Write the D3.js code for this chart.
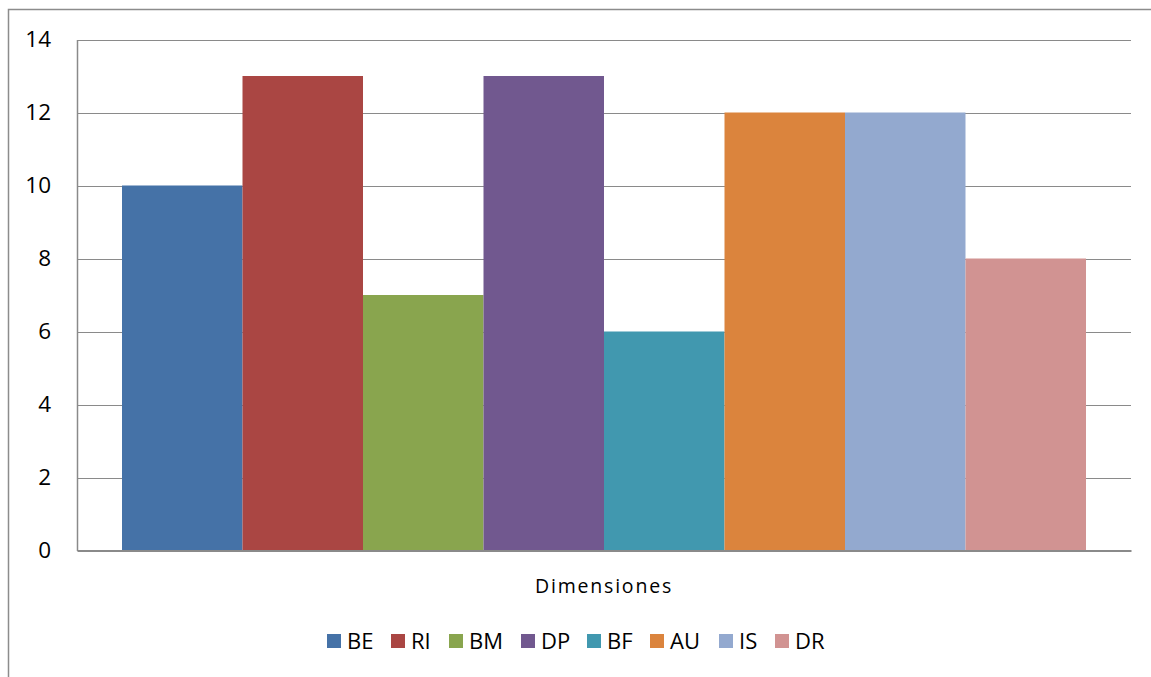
<!DOCTYPE html>
<html>
<head>
<meta charset="utf-8">
<script src="https://cdn.jsdelivr.net/npm/d3@7"></script>
<style>
  html, body { margin: 0; padding: 0; background: #fff; }
  svg { display: block; font-family: "Open Sans", Lato, sans-serif; }
</style>
</head>
<body>
<svg id="chart" width="1151" height="677"></svg>
<script>
// Dimension scores
const categories = ["BE", "RI", "BM", "DP", "BF", "AU", "IS", "DR"];
const values = [10, 13, 7, 13, 6, 12, 12, 8];
const colors = ["#4572A7", "#AA4643", "#89A54E", "#71588F", "#4198AF", "#DB843D", "#93A9CF", "#D19392"];
const yTicks = [0, 2, 4, 6, 8, 10, 12, 14];
const groupLabel = "Dimensiones";

const FONT = "'Open Sans', Lato, sans-serif";

const svg = d3.select("#chart");
const plot = { left: 77, right: 1131, top: 39.5, bottom: 550.5 };

// Outer frame
svg.append("rect")
  .attr("x", 8.5).attr("y", 9.5)
  .attr("width", 1160).attr("height", 700)
  .attr("fill", "none").attr("stroke", "#8c8c8c").attr("stroke-width", 1.5);

const y = d3.scaleLinear().domain([0, 14]).range([plot.bottom, plot.top]);

// One category group containing all series side by side
const x0 = d3.scaleBand().domain([groupLabel]).range([plot.left, plot.right]).paddingInner(0).paddingOuter(0);
const x1 = d3.scaleBand().domain(categories)
  .range([x0(groupLabel) + 45, x0(groupLabel) + x0.bandwidth() - 45])
  .padding(0);

// Gridlines
svg.append("g")
  .selectAll("line")
  .data(yTicks.filter(d => d > 0))
  .join("line")
  .attr("x1", plot.left).attr("x2", plot.right)
  .attr("y1", d => Math.round(y(d)) + 0.5).attr("y2", d => Math.round(y(d)) + 0.5)
  .attr("stroke", "#8a8a8a").attr("stroke-width", 1.2);

// Bars
svg.append("g")
  .selectAll("rect")
  .data(categories)
  .join("rect")
  .attr("x", d => x1(d))
  .attr("width", x1.bandwidth())
  .attr("y", (d, i) => y(values[i]))
  .attr("height", (d, i) => y(0) - y(values[i]))
  .attr("fill", (d, i) => colors[i]);

// Y axis
const yAxis = svg.append("g")
  .attr("transform", `translate(${plot.left},0)`)
  .call(d3.axisLeft(y).tickValues(yTicks).tickSize(0).tickPadding(26).tickFormat(d3.format("d")));
yAxis.select(".domain").attr("stroke", "#8a8a8a").attr("stroke-width", 1.5);
yAxis.selectAll("text")
  .attr("font-size", 22.5).attr("fill", "#000")
  .attr("font-family", FONT);

// X axis
const xAxis = svg.append("g")
  .attr("transform", `translate(0,${plot.bottom})`)
  .call(d3.axisBottom(x0).tickSize(0).tickPadding(28.5));
xAxis.select(".domain").attr("stroke", "#8a8a8a").attr("stroke-width", 2);
xAxis.selectAll("text")
  .attr("font-size", 19.5).attr("fill", "#000")
  .attr("letter-spacing", 1.8)
  .attr("font-family", FONT);

// Legend
const legendX = [327, 391, 449, 521, 587, 650, 719, 775];
const legend = svg.append("g").selectAll("g")
  .data(categories)
  .join("g")
  .attr("transform", (d, i) => `translate(${legendX[i]},634)`);
legend.append("rect")
  .attr("width", 14).attr("height", 14)
  .attr("fill", (d, i) => colors[i]);
legend.append("text")
  .attr("x", 20).attr("y", 7)
  .attr("dy", "0.35em")
  .attr("font-size", 22)
  .attr("font-family", FONT)
  .attr("fill", "#000")
  .text(d => d);
</script>
</body>
</html>
